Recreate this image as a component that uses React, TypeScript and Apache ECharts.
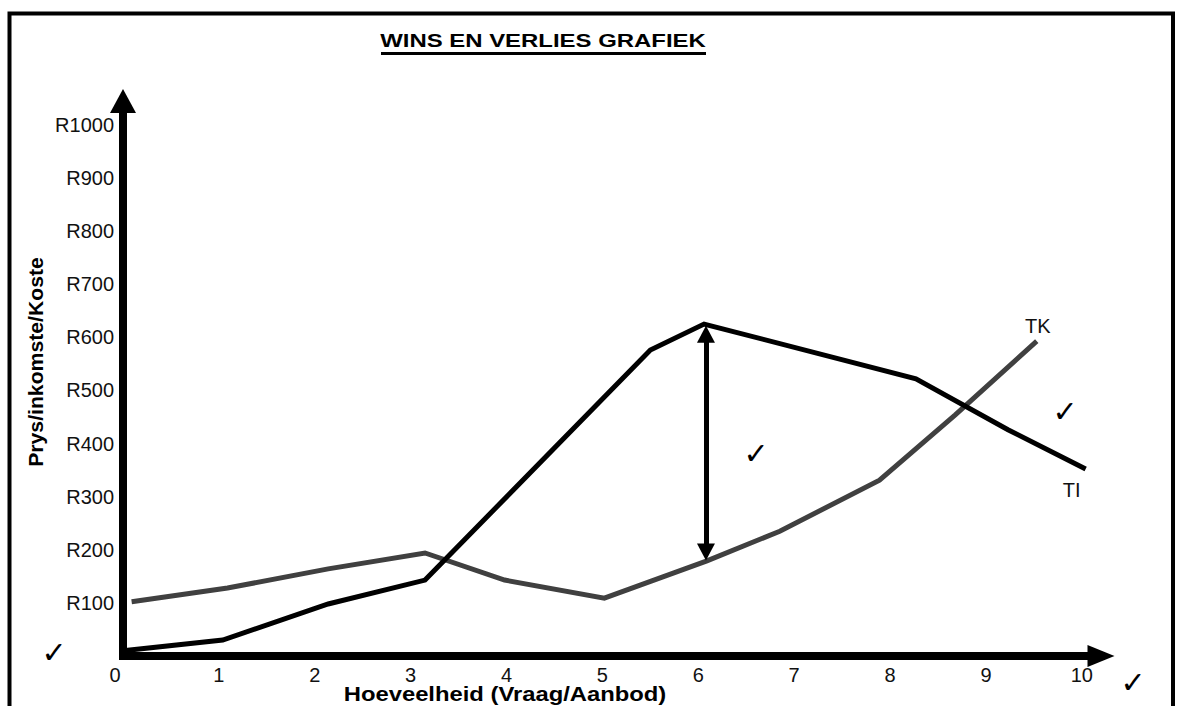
import React, { useEffect, useRef } from "react";
import * as echarts from "echarts";

// Total cost (TK) curve
const tkX = [0.09, 1.09, 2.14, 3.15, 3.98, 5.02, 6.09, 6.85, 7.89, 8.68, 9.53];
const tkY = [102, 128, 164, 194, 143, 109, 179, 235, 331, 454, 593];
// Total income (TI) curve
const tiX = [0, 1.04, 2.14, 3.15, 5.5, 6.06, 8.27, 9.23, 10.04];
const tiY = [10, 30, 98, 143, 576, 625, 522, 426, 352];
// Profit arrow (between TI and TK)
const arrowX = 6.08;
const arrowFrom = 606;
const arrowTo = 196;

const X_MAX_LABEL = 10;
const Y_MAX_LABEL = 1000;
const currency = "R";

const FONT = '"Liberation Sans", Arial, sans-serif';

export default function App() {
  const ref = useRef<HTMLDivElement>(null);
  useEffect(() => {
    if (!ref.current) return;
    const chart = echarts.init(ref.current, null, { renderer: "svg" });
    const tk = tkX.map((x, i) => [x, tkY[i]]);
    const ti = tiX.map((x, i) => [x, tiY[i]]);
    const check = (x: number, y: number) => ({
      type: "text",
      x,
      y,
      style: {
        text: "✓",
        font: '30px "DejaVu Sans", sans-serif',
        fill: "#000",
        align: "center",
        verticalAlign: "middle",
      },
    });
    chart.setOption({
      animation: false,
      backgroundColor: "#fff",
      grid: { left: 123, right: 77, top: 101, bottom: 50, containLabel: false },
      xAxis: {
        type: "value",
        min: 0,
        max: 10.2,
        interval: 1,
        axisLine: {
          show: true,
          symbol: ["none", "triangle"],
          symbolSize: [22, 27],
          lineStyle: { color: "#000", width: 8, cap: "square" },
        },
        axisTick: { show: false },
        splitLine: { show: false },
        axisLabel: {
          margin: 9,
          fontSize: 20,
          fontFamily: FONT,
          color: "#111",
          formatter: (v: number) =>
            v === 0 ? "{z|0}" : v > X_MAX_LABEL ? "" : String(v),
          rich: {
            z: { fontSize: 20, fontFamily: FONT, color: "#111", padding: [0, 16, 0, 0] },
          },
        },
      },
      yAxis: {
        type: "value",
        min: 0,
        max: 1045,
        interval: 100,
        axisLine: {
          show: true,
          symbol: ["none", "triangle"],
          symbolSize: [26, 24],
          lineStyle: { color: "#000", width: 8, cap: "square" },
        },
        axisTick: { show: false },
        splitLine: { show: false },
        axisLabel: {
          margin: 9,
          fontSize: 20,
          fontFamily: FONT,
          color: "#111",
          formatter: (v: number) =>
            v === 0 || v > Y_MAX_LABEL ? "" : currency + v,
        },
      },
      series: [
        {
          name: "TK",
          type: "line",
          data: tk,
          symbol: "none",
          lineStyle: { color: "#404040", width: 5, join: "miter" },
          z: 2,
          markPoint: {
            symbol: "circle",
            symbolSize: 1,
            itemStyle: { color: "transparent" },
            label: {
              show: true,
              position: "inside",
              offset: [1, -15],
              formatter: "TK",
              fontSize: 20,
              fontFamily: FONT,
              color: "#111",
            },
            data: [{ coord: tk[tk.length - 1] }],
          },
        },
        {
          name: "TI",
          type: "line",
          data: ti,
          symbol: "none",
          lineStyle: { color: "#000", width: 5, join: "miter" },
          z: 3,
          markPoint: {
            symbol: "circle",
            symbolSize: 1,
            itemStyle: { color: "transparent" },
            label: {
              show: true,
              position: "inside",
              offset: [-14, 21],
              formatter: "TI",
              fontSize: 20,
              fontFamily: FONT,
              color: "#111",
            },
            data: [{ coord: ti[ti.length - 1] }],
          },
          markLine: {
            silent: true,
            symbol: ["triangle", "triangle"],
            symbolSize: [18, 17],
            lineStyle: { color: "#000", width: 5, type: "solid" },
            label: { show: false },
            data: [[{ coord: [arrowX, arrowFrom] }, { coord: [arrowX, arrowTo] }]],
          },
        },
      ],
      graphic: [
        {
          type: "rect",
          shape: { x: 9.5, y: 13.5, width: 1163.5, height: 740 },
          style: { fill: "none", stroke: "#000", lineWidth: 4 },
          z: 10,
        },
        {
          type: "text",
          x: 543,
          y: 41,
          scaleX: 1.33,
          style: {
            text: "WINS EN VERLIES GRAFIEK",
            font: "bold 18px " + FONT,
            fill: "#000",
            align: "center",
            verticalAlign: "middle",
          },
        },
        {
          type: "line",
          shape: { x1: 381, y1: 53.5, x2: 706, y2: 53.5 },
          style: { stroke: "#000", lineWidth: 3 },
        },
        {
          type: "text",
          x: 505,
          y: 694,
          scaleX: 1.19,
          style: {
            text: "Hoeveelheid (Vraag/Aanbod)",
            font: "bold 20px " + FONT,
            fill: "#000",
            align: "center",
            verticalAlign: "middle",
          },
        },
        {
          type: "text",
          x: 35.5,
          y: 362,
          rotation: Math.PI / 2,
          scaleX: 1.06,
          style: {
            text: "Prys/inkomste/Koste",
            font: "bold 20px " + FONT,
            fill: "#000",
            align: "center",
            verticalAlign: "middle",
          },
        },
        check(54, 652),
        check(756, 453),
        check(1065, 411),
        check(1133, 682),
      ],
    });
    return () => chart.dispose();
  }, []);
  return (
    <div
      ref={ref}
      style={{ position: "absolute", left: 0, top: 0, width: 1178, height: 706 }}
    />
  );
}
